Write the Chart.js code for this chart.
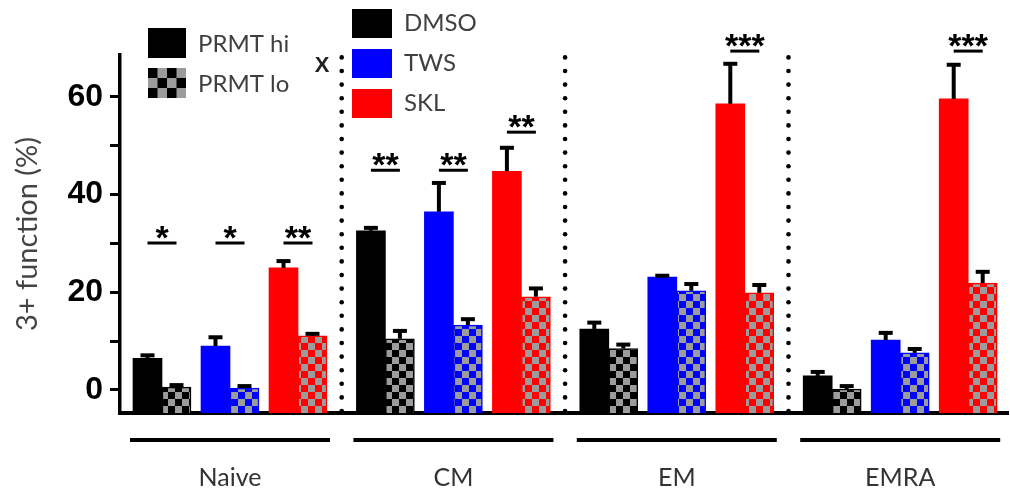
<!DOCTYPE html>
<html>
<head>
<meta charset="utf-8">
<script src="https://cdn.jsdelivr.net/npm/chart.js@4.4.1/dist/chart.umd.min.js"></script>
<style>
  html, body { margin: 0; padding: 0; background: #fff; }
  #wrap { width: 1010px; height: 492px; position: relative; }
</style>
</head>
<body>
<div id="wrap"><canvas id="chart"></canvas></div>
<script>
// Data (% of cells)
const groups = ['Naive', 'CM', 'EM', 'EMRA'];
const treatments = ['DMSO', 'TWS', 'SKL'];

const dmsoHi = [6.5, 32.6, 12.5, 2.9];
const dmsoHiErr = [0.6, 0.6, 1.3, 0.8];
const dmsoLo = [0.6, 10.5, 8.5, 0.2];
const dmsoLoErr = [0.4, 1.6, 0.8, 0.6];

const twsHi = [9.0, 36.5, 23.1, 10.2];
const twsHiErr = [1.8, 5.9, 0.3, 1.5];
const twsLo = [0.4, 13.3, 20.3, 7.6];
const twsLoErr = [0.4, 1.2, 1.4, 0.8];

const sklHi = [25.0, 44.8, 58.6, 59.6];
const sklHiErr = [1.4, 4.8, 8.2, 7.0];
const sklLo = [11.1, 19.1, 19.9, 21.9];
const sklLoErr = [0.4, 1.7, 1.6, 2.3];

// significance marks (hi vs lo) and the level of their bracket
const sigDMSO = ['*', '**', '', ''];
const sigTWS = ['*', '**', '', ''];
const sigSKL = ['**', '**', '***', '***'];
const sigLevelDMSO = [30.1, 45.0, null, null];
const sigLevelTWS = [30.1, 45.0, null, null];
const sigLevelSKL = [30.1, 52.8, 69.4, 69.4];

const yTicks = [0, 10, 20, 30, 40, 50, 60];

// layout
const Y_MIN = -4.71, Y_MAX = 68.6;
const BAR_W = 29;
const GROUP_START = 13, GROUP_STEP = 223.4;
const BAR_OFFSETS = [14.5, 43.5, 82.5, 111.5, 150.5, 179.5];
const colors = ['#000000', '#0000ff', '#ff0000'];
const LABEL_FONT = 'Lato, "Open Sans", sans-serif';

function barX(g, k) {
    return GROUP_START + g * GROUP_STEP + BAR_OFFSETS[k];
}

function checker(ctx, color) {
    const c = document.createElement('canvas');
    c.width = c.height = 14;
    const p = c.getContext('2d');
    p.fillStyle = '#9c9c9c';
    p.fillRect(0, 0, 14, 14);
    p.fillStyle = color;
    p.fillRect(0, 0, 7, 7);
    p.fillRect(7, 7, 7, 7);
    return ctx.createPattern(c, 'repeat');
}

const errorBars = {
    id: 'errorBars',
    afterDatasetsDraw(chart) {
        const ctx = chart.ctx;
        const y = chart.scales.y;
        ctx.save();
        ctx.strokeStyle = '#000';
        ctx.lineWidth = 4;
        chart.data.datasets.forEach((ds, i) => {
            chart.getDatasetMeta(i).data.forEach((bar, j) => {
                const top = y.getPixelForValue(ds.data[j].y + ds.errors[j]);
                ctx.beginPath();
                ctx.moveTo(bar.x, bar.y);
                ctx.lineTo(bar.x, top);
                ctx.stroke();
                ctx.beginPath();
                ctx.moveTo(bar.x - 7, top);
                ctx.lineTo(bar.x + 7, top);
                ctx.stroke();
            });
        });
        ctx.restore();
    }
};

const decorations = {
    id: 'decorations',
    afterDraw(chart) {
        const ctx = chart.ctx;
        const x = chart.scales.x, y = chart.scales.y;
        const bottom = chart.chartArea.bottom;
        ctx.save();

        // dotted separators between groups
        ctx.fillStyle = '#000';
        for (let g = 0; g < groups.length - 1; g++) {
            const sx = x.getPixelForValue((barX(g, 5) + barX(g + 1, 0)) / 2);
            for (let dy = bottom - 2; dy > 55; dy -= 13.6) {
                ctx.beginPath();
                ctx.arc(sx, dy, 2.3, 0, Math.PI * 2);
                ctx.fill();
            }
        }

        // group underlines and labels
        ctx.strokeStyle = '#000';
        ctx.lineWidth = 4;
        ctx.font = '25px ' + LABEL_FONT;
        ctx.textAlign = 'center';
        ctx.textBaseline = 'alphabetic';
        groups.forEach((name, g) => {
            const x1 = x.getPixelForValue(barX(g, 0) - BAR_W / 2 - 3);
            const x2 = x.getPixelForValue(barX(g, 5) + BAR_W / 2 + 3);
            ctx.beginPath();
            ctx.moveTo(x1, 440);
            ctx.lineTo(x2, 440);
            ctx.stroke();
            ctx.fillStyle = '#333';
            ctx.fillText(name, (x1 + x2) / 2, 486);
        });

        // significance brackets
        const sigs = [sigDMSO, sigTWS, sigSKL];
        const levels = [sigLevelDMSO, sigLevelTWS, sigLevelSKL];
        ctx.lineWidth = 3;
        ctx.fillStyle = '#000';
        ctx.font = 'bold 34px "Liberation Sans", Arial, sans-serif';
        sigs.forEach((marks, k) => {
            marks.forEach((m, g) => {
                if (!m) return;
                const x1 = x.getPixelForValue(barX(g, 2 * k));
                const x2 = x.getPixelForValue(barX(g, 2 * k + 1));
                const yy = y.getPixelForValue(levels[k][g]);
                ctx.beginPath();
                ctx.moveTo(x1, yy);
                ctx.lineTo(x2, yy);
                ctx.stroke();
                ctx.fillText(m, (x1 + x2) / 2, yy + 6);
            });
        });

        // legends
        ctx.textAlign = 'left';
        ctx.fillStyle = '#000';
        ctx.fillRect(148, 28, 38, 30);
        ctx.fillStyle = '#9c9c9c';
        ctx.fillRect(148, 68, 38, 30);
        ctx.fillStyle = '#000';
        for (let r = 0; r < 3; r++) {
            for (let c = 0; c < 4; c++) {
                if ((r + c) % 2 === 0) ctx.fillRect(148 + c * 9.5, 68 + r * 10, 9.5, 10);
            }
        }
        ctx.font = '24px ' + LABEL_FONT;
        ctx.fillStyle = '#404040';
        ctx.fillText('PRMT hi', 198, 52);
        ctx.fillText('PRMT lo', 198, 92);

        const legendY = [9, 49, 89];
        treatments.forEach((t, k) => {
            ctx.fillStyle = colors[k];
            ctx.fillRect(352, legendY[k], 40, 29);
            ctx.fillStyle = '#404040';
            ctx.fillText(t, 404, legendY[k] + 22);
        });

        ctx.font = 'bold 22px "Liberation Sans", Arial, sans-serif';
        ctx.fillStyle = '#222';
        ctx.textAlign = 'center';
        ctx.fillText('X', 322, 72);

        ctx.restore();
    }
};

function buildChart() {
    const canvas = document.getElementById('chart');
    const ctx = canvas.getContext('2d');

    const series = [
        [dmsoHi, dmsoHiErr, dmsoLo, dmsoLoErr],
        [twsHi, twsHiErr, twsLo, twsLoErr],
        [sklHi, sklHiErr, sklLo, sklLoErr]
    ];

    const datasets = [];
    series.forEach((s, k) => {
        datasets.push({
            label: treatments[k] + ' PRMT hi',
            data: s[0].map((v, g) => ({ x: barX(g, 2 * k), y: v })),
            errors: s[1],
            backgroundColor: colors[k],
            borderWidth: 0
        });
        datasets.push({
            label: treatments[k] + ' PRMT lo',
            data: s[2].map((v, g) => ({ x: barX(g, 2 * k + 1), y: v })),
            errors: s[3],
            backgroundColor: checker(ctx, colors[k]),
            borderColor: colors[k],
            borderWidth: 1.5
        });
    });

    new Chart(ctx, {
        type: 'bar',
        data: { datasets: datasets },
        options: {
            responsive: true,
            maintainAspectRatio: false,
            animation: false,
            layout: { padding: { top: 55, right: 2, left: 0, bottom: 0 } },
            datasets: {
                bar: { grouped: false, barThickness: BAR_W, base: Y_MIN }
            },
            plugins: {
                legend: { display: false },
                tooltip: { enabled: false }
            },
            scales: {
                x: {
                    type: 'linear',
                    min: 0,
                    max: 888,
                    offset: false,
                    ticks: { display: false },
                    grid: { display: false },
                    border: { display: true, width: 4, color: '#000' },
                    afterFit: (scale) => { scale.height = 79; }
                },
                y: {
                    min: Y_MIN,
                    max: Y_MAX,
                    afterBuildTicks: (scale) => {
                        scale.ticks = yTicks.map(v => ({ value: v }));
                    },
                    afterFit: (scale) => { scale.width = 120; },
                    ticks: {
                        color: '#000',
                        padding: 7,
                        font: { family: '"Liberation Sans", Arial, sans-serif', size: 32, weight: 'bold' },
                        callback: (v) => (v % 20 === 0 ? String(v) : '')
                    },
                    grid: {
                        drawOnChartArea: false,
                        drawTicks: true,
                        tickLength: 10,
                        color: '#000',
                        lineWidth: 3
                    },
                    border: { display: true, width: 3.5, color: '#000' },
                    title: {
                        display: true,
                        text: '3+ function (%)',
                        color: '#444',
                        font: { family: LABEL_FONT, size: 29 },
                        padding: { top: 10, bottom: 0 }
                    }
                }
            }
        },
        plugins: [errorBars, decorations]
    });
}

document.fonts.load('24px Lato').then(buildChart, buildChart);
</script>
</body>
</html>
